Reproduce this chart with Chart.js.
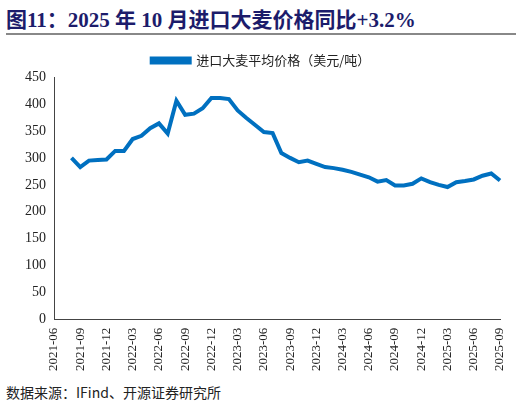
<!DOCTYPE html>
<html>
<head>
<meta charset="utf-8">
<script src="https://cdn.jsdelivr.net/npm/chart.js@4"></script>
<style>
  body { margin: 0; width: 522px; height: 408px; background: #fff; position: relative; overflow: hidden; }
  #title { position: absolute; left: 6px; top: 3px; font: bold 21px "Liberation Serif", "Noto Sans CJK SC", serif; color: #1c1c6b; white-space: nowrap; }
  #rule { position: absolute; left: 6px; right: 6px; top: 33px; height: 2px; background: #888; }
  #wrap { position: absolute; left: 0; top: 44px; width: 522px; height: 330px; }
  #source { position: absolute; left: 6px; top: 382px; font: 14px "Noto Sans CJK SC", sans-serif; color: #222; }
</style>
</head>
<body>
<div id="title">图11：2025 年 10 月进口大麦价格同比+3.2%</div>
<div id="rule"></div>
<div id="wrap"><canvas id="chart" width="522" height="330"></canvas></div>
<div id="source">数据来源：IFind、开源证券研究所</div>
<script>
// months from 2021-06 to 2025-09
let months = [];
for (let y = 2021; y <= 2025; y++) {
  for (let m = 1; m <= 12; m++) {
    if ((y === 2021 && m < 6) || (y === 2025 && m > 9)) continue;
    months.push(y + "-" + (m < 10 ? "0" + m : m));
  }
}

// 进口大麦平均价格 (美元/吨), 2021-08 .. 2025-09
let prices = [
  300, 283, 295, 296, 297,
  313, 313, 335, 341, 355, 364, 345, 406, 380, 382, 392, 411,
  411, 409, 388, 374, 361, 348, 346, 309, 300, 292, 295, 289,
  283, 281, 278, 274, 269, 264, 256, 259, 249, 249, 252, 262,
  255, 250, 246, 255, 257, 260, 267, 271, 258
];
let seriesData = [null, null].concat(prices);

let yTicks = [0, 50, 100, 150, 200, 250, 300, 350, 400, 450];

new Chart(document.getElementById("chart"), {
  type: "line",
  data: {
    labels: months,
    datasets: [{
      label: "进口大麦平均价格（美元/吨）",
      data: seriesData,
      borderColor: "#0070c0",
      backgroundColor: "#0070c0",
      borderWidth: 4,
      pointRadius: 0,
      tension: 0,
      fill: false,
    }],
  },
  options: {
    responsive: false,
    animation: false,
    layout: { padding: { left: 22, right: 22, top: 0, bottom: 0 } },
    plugins: {
      legend: {
        labels: {
          boxWidth: 38, boxHeight: 4, color: "#222",
          font: { family: "Noto Sans CJK SC", size: 13 },
        },
      },
      tooltip: { enabled: false },
    },
    scales: {
      x: {
        offset: false,
        grid: { display: false, drawTicks: true, tickLength: 5, tickColor: "#444" },
        border: { color: "#444" },
        ticks: {
          autoSkip: false, maxRotation: 90, minRotation: 90,
          color: "#222", font: { family: "Liberation Serif", size: 13 },
          callback: function (v, i) { return i % 3 === 0 ? months[i] : null; },
        },
      },
      y: {
        min: 0, max: 450,
        afterBuildTicks: function (axis) { axis.ticks = yTicks.map(function (v) { return { value: v }; }); },
        grid: { display: false, drawTicks: true, tickLength: 5, tickColor: "#444" },
        border: { color: "#444" },
        ticks: { color: "#222", font: { family: "Liberation Serif", size: 14 } },
      },
    },
  },
});
</script>
</body>
</html>
